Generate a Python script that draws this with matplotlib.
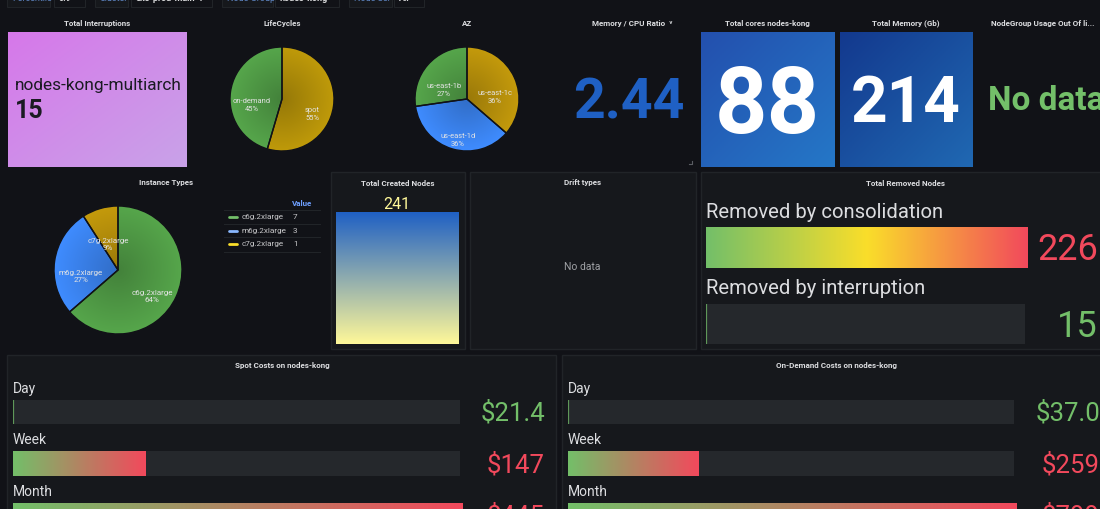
import matplotlib
matplotlib.use("Agg")
import matplotlib.pyplot as plt
import numpy as np
from matplotlib.colors import LinearSegmentedColormap, to_rgb
from matplotlib.patches import Rectangle, Wedge

plt.rcParams['font.family'] = ['Roboto', 'DejaVu Sans']

W, H = 1100, 509
BG = '#111217'
PANEL = '#16181c'
BORDER = '#212428'
TRACK = '#25282c'
GREEN = '#73bf69'
RED = '#f2495c'
YELLOW = '#fade2a'
PALE = '#fff899'

# pies
life_labels = ['spot', 'on-demand']
life_values = [6, 5]
az_labels = ['us-east-1c', 'us-east-1d', 'us-east-1b']
az_values = [4, 4, 3]
inst_labels = ['c6g.2xlarge', 'm6g.2xlarge', 'c7g.2xlarge']
inst_values = [7, 3, 1]

# single stats
interruptions_name = 'nodes-kong-multiarch'
interruptions = 15
mem_cpu_ratio = 2.44
total_cores = 88
total_memory = 214
created_nodes = 241

# gauges
removed_labels = ['Removed by consolidation', 'Removed by interruption']
removed_values = [226, 15]
cost_labels = ['Day', 'Week', 'Month']
spot_costs = [21.4, 147, 445]
spot_text = ['$21.4', '$147', '$445']
demand_costs = [37.0, 259, 799]
demand_text = ['$37.0', '$259', '$799']

# top variable strip
var_labels = ['Percentile', 'Cluster', 'Node Group', 'Node Sel']
var_values = ['0.9', 'eks-prod-main-1', 'nodes-kong', 'All']

fig = plt.figure(figsize=(W / 100, H / 100), dpi=100, facecolor=BG)


def px_axes(x0, y0, x1, y1, z=1):
    ax = fig.add_axes([x0 / W, 1 - y1 / H, (x1 - x0) / W, (y1 - y0) / H], zorder=z)
    ax.axis('off')
    return ax


bg = px_axes(0, 0, W, H, z=0)
bg.set_xlim(0, W)
bg.set_ylim(H, 0)
fg = px_axes(0, 0, W, H, z=10)
fg.set_xlim(0, W)
fg.set_ylim(H, 0)


def panel(x0, y0, x1, y1):
    bg.add_patch(Rectangle((x0, y0), x1 - x0, y1 - y0, fc=PANEL, ec=BORDER, lw=1))


def title(x, y, s):
    fg.text(x, y, s, color='#dcdde0', fontsize=5.8, fontweight='bold', ha='center', va='center')


def tile(x0, y0, x1, y1, c0, c1):
    ax = px_axes(x0, y0, x1, y1)
    t = np.linspace(0, 1, 64)
    g = (t[None, :] + t[:, None]) / 2
    cmap = LinearSegmentedColormap.from_list('t', [c0, c1])
    ax.imshow(g, cmap=cmap, aspect='auto', vmin=0, vmax=1)


def pie(cx, cy, r, labels, values, colors, label_pos, fs):
    ax = px_axes(cx - r - 2, cy - r - 2, cx + r + 2, cy + r + 2)
    wedges, _ = ax.pie(values, colors=colors, startangle=90, counterclock=False, radius=1,
                       wedgeprops=dict(linewidth=1, edgecolor=BG))
    # darker towards the centre, like the grafana pie gradient
    yy, xx = np.mgrid[-1:1:200j, -1:1:200j]
    rr = np.clip(np.hypot(xx, yy), 0, 1)
    for w, c in zip(wedges, colors):
        rgb = np.array(to_rgb(c))
        img = rgb[None, None, :] * (0.78 + 0.22 * rr[:, :, None])
        im = ax.imshow(img, extent=(-1, 1, -1, 1), origin='lower', zorder=1.5)
        im.set_clip_path(w)
        ax.add_patch(Wedge((0, 0), 1, w.theta1, w.theta2, fc='none', ec=BG, lw=1, zorder=2))
    lim = (r + 2) / r
    ax.set_aspect('auto')
    ax.set_xlim(-lim, lim)
    ax.set_ylim(-lim, lim)
    total = sum(values)
    for lab, v, (x, y) in zip(labels, values, label_pos):
        fg.text(x, y, f'{lab}\n{v / total * 100:.0f}%', color='#e4e4e4', fontsize=fs, ha='center',
                va='center', linespacing=1.2)


def gauge(x0, y0, x1, y1, value, lo, hi, colors):
    ax = px_axes(x0, y0, x1, y1)
    ax.axis('on')
    ax.set_facecolor(TRACK)
    for s in ax.spines.values():
        s.set_visible(False)
    ax.set_xticks([])
    ax.set_yticks([])
    ax.set_xlim(lo, hi)
    ax.set_ylim(0, 1)
    if value <= lo:
        ax.axvline(lo, color=colors[0], lw=1.6, alpha=0.75)
        return
    bar = ax.barh(0.5, value - lo, left=lo, height=1, color=colors[0])[0]
    cmap = LinearSegmentedColormap.from_list('g', colors)
    im = ax.imshow(np.linspace(0, 1, 256)[None, :], cmap=cmap, aspect='auto',
                   extent=(lo, value, 0, 1), zorder=3)
    im.set_clip_path(bar)
    ax.set_xlim(lo, hi)
    ax.set_ylim(0, 1)


# top strip, cut off by the crop
strip = [(7, 50, 54, 85), (95, 128, 131, 212), (222, 273, 275, 339), (349, 392, 394, 424)]
for (a0, a1, b0, b1), lab, val in zip(strip, var_labels, var_values):
    bg.add_patch(Rectangle((a0, -5), a1 - a0, 12, fc=PANEL, ec=BORDER, lw=0.8))
    bg.add_patch(Rectangle((b0, -5), b1 - b0, 12, fc=BG, ec=BORDER, lw=0.8))
    fg.text(a0 + 5, -2, lab, color='#5f86c4', fontsize=6.5, va='center')
    fg.text(b0 + 5, -2, val, color='#d8d9da', fontsize=6.5, fontweight='bold', va='center')

# first row
title(97, 23, 'Total Interruptions')
tile(8, 32, 187, 167, '#d678ea', '#c9a2e8')
fg.text(15, 85, interruptions_name, color='#1a1a22', fontsize=12.4, va='center')
fg.text(15, 118, str(interruptions), color='#1a1a22', fontsize=18, fontweight='bold', va='baseline')

title(282, 23, 'LifeCycles')
pie(282, 99, 52, life_labels, life_values, ['#bf9a0a', '#56a64b'], [(312, 114), (251.6, 105.6)], 5.4)

title(467, 23, 'AZ')
pie(467, 99, 52, az_labels, az_values, ['#c49a0c', '#3f8cff', '#56a64b'],
    [(495, 97), (458, 140), (444, 90)], 5.4)

title(632, 23, 'Memory / CPU Ratio  \u02c5')
fg.text(629, 118, f'{mem_cpu_ratio:.2f}', color='#1f60c4', fontsize=40, fontweight='bold', ha='center', va='baseline')
bg.plot([689, 692, 692], [164, 164, 161], color='#5a5d63', lw=0.8)

title(767.5, 23, 'Total cores nodes-kong')
tile(701, 32, 834, 167, '#2350ae', '#2577c7')
fg.text(767.5, 132.5, str(total_cores), color='white', fontsize=66, fontweight='bold', ha='center', va='baseline')

title(906, 23, 'Total Memory (Gb)')
tile(840, 32, 973, 167, '#13398e', '#2068b2')
fg.text(906, 122, str(total_memory), color='white', fontsize=46, fontweight='bold', ha='center', va='baseline')

title(1043, 23, 'NodeGroup Usage Out Of li...')
fg.text(988, 110, 'No data', color=GREEN, fontsize=24, fontweight='bold', va='baseline')

# second row
title(166, 183, 'Instance Types')
pie(118, 270, 64, inst_labels, inst_values, ['#56a64b', '#3f8cff', '#c49a0c'],
    [(152, 297), (81, 276), (108, 245)], 5.8)

fg.text(292, 203, 'Value', color='#6e9fff', fontsize=5.8, fontweight='bold', va='center')
for i, (lab, v, c) in enumerate(zip(inst_labels, inst_values, ['#73bf69', '#8ab8ff', YELLOW])):
    y = 217 + i * 13.7
    fg.plot([229, 237], [y, y], color=c, lw=2, solid_capstyle='round')
    fg.text(242, y, lab, color='#c7c7c9', fontsize=5.9, va='center')
    fg.text(293, y, str(v), color='#c7c7c9', fontsize=5.9, va='center')
    bg.plot([224, 320], [y - 7, y - 7], color=BORDER, lw=0.8)
bg.plot([224, 320], [252, 252], color=BORDER, lw=0.8)

panel(331, 172, 465, 349)
title(398, 183, 'Total Created Nodes')
fg.text(397, 204.5, str(created_nodes), color=PALE, fontsize=11.5, ha='center', va='center')
created_ax = px_axes(336, 212, 459, 344)
created_ax.imshow(np.linspace(0, 1, 256)[:, None], aspect='auto',
                  cmap=LinearSegmentedColormap.from_list('c', ['#1f60c4', PALE]))

panel(470, 172, 696, 349)
title(583, 183, 'Drift types')
fg.text(582, 266.5, 'No data', color='#9fa1a5', fontsize=7.5, ha='center', va='center')

panel(701, 172, 1104, 349)
title(906, 183, 'Total Removed Nodes')
removed_y = [(212, 227, 268, 260), (288, 304, 344, 337)]
removed_colors = [RED, GREEN]
for lab, v, (ty, y0, y1, base), c in zip(removed_labels, removed_values, removed_y, removed_colors):
    fg.text(706, ty + 0.5, lab, color='#dcdde0', fontsize=14.6, va='center')
    fg.text(1098, base, str(v), color=c, fontsize=26, ha='right', va='baseline')
    x1 = 1027 if v == max(removed_values) else 1025
    gauge(706, y0, x1, y1, v, min(removed_values), max(removed_values), [GREEN, YELLOW, RED])

# third row
rows = [(389.5, 400, 424, 420.5), (440.5, 451, 476, 472.5), (492.5, 503, 530, 524)]


def costs_panel(px0, px1, tx, title_s, lx, bar_x1, val_x, costs, texts):
    panel(px0, 355, px1, 530)
    title(tx, 365.5, title_s)
    lo, hi = min(costs), max(costs)
    for lab, v, s, (ty, y0, y1, base) in zip(cost_labels, costs, texts, rows):
        fg.text(lx, ty, lab, color='#dcdde0', fontsize=10, va='center')
        fg.text(val_x, base, s, color=GREEN if v == lo else RED, fontsize=18.5, ha='right', va='baseline')
        gauge(lx, y0, bar_x1 + (2 if v == hi else 0), y1, v, lo, hi, [GREEN, RED])


costs_panel(7, 556, 282, 'Spot Costs on nodes-kong', 12.5, 460, 545, spot_costs, spot_text)
costs_panel(562, 1104, 836, 'On-Demand Costs on nodes-kong', 567.5, 1014, 1100, demand_costs, demand_text)

fig.savefig('out.png', dpi=100, facecolor=BG)
